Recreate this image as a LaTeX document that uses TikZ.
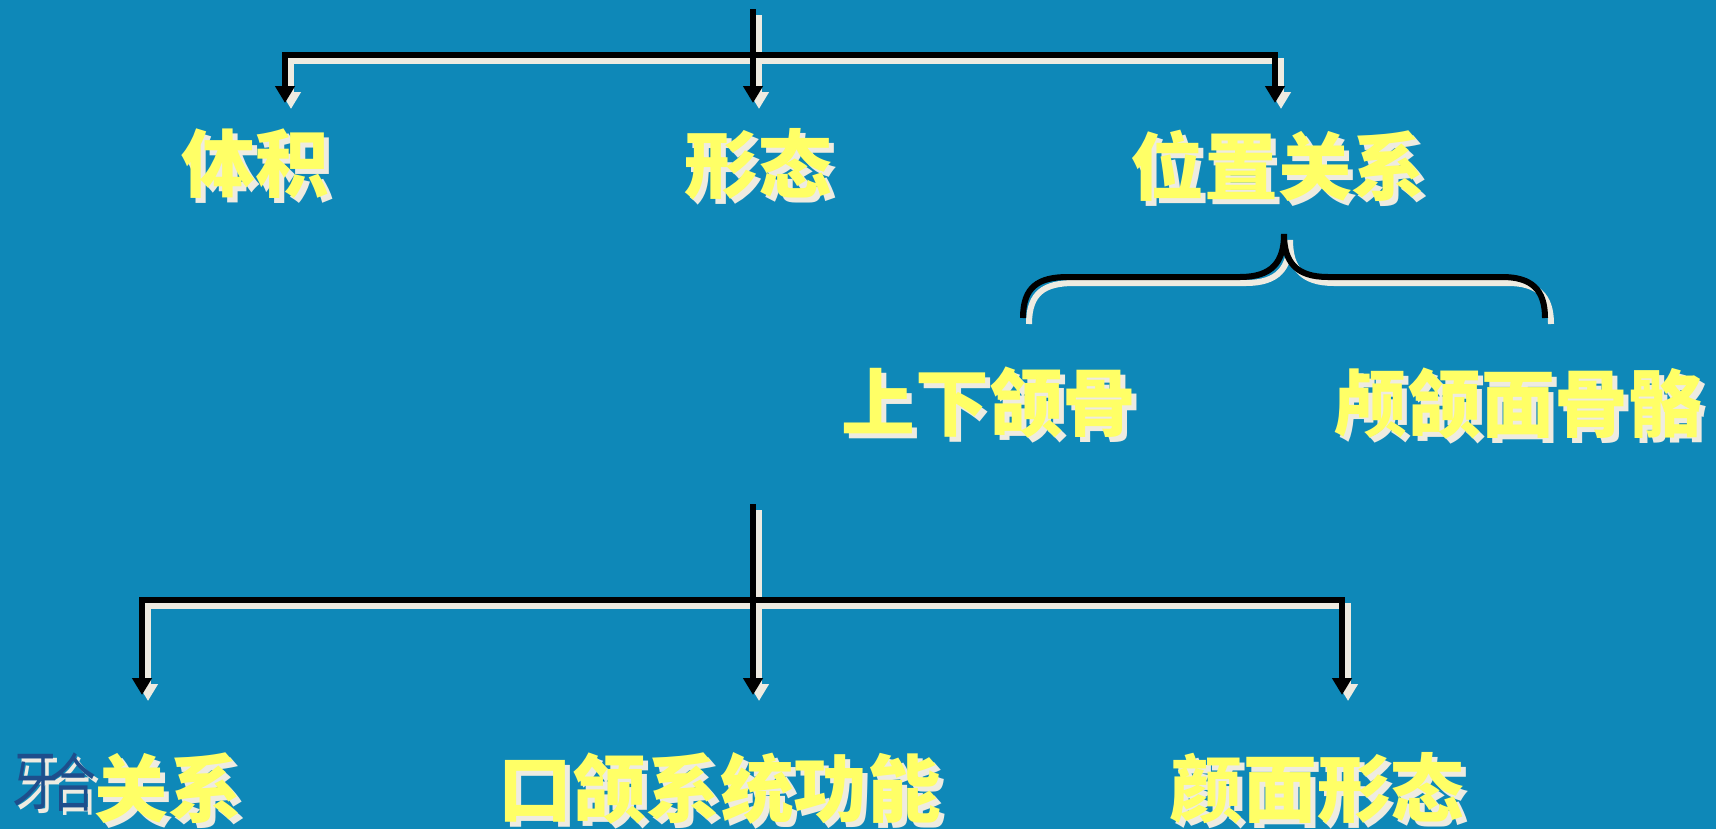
\documentclass[tikz,border=0pt]{standalone}
\usepackage{fontspec}
\newfontfamily\cjk{Noto Sans CJK SC}
\usetikzlibrary{arrows.meta}
\definecolor{bg}{RGB}{14,136,184}
\definecolor{ylw}{RGB}{255,255,102}
\definecolor{shd}{RGB}{238,235,225}
\definecolor{dkb}{RGB}{30,78,140}
\tikzset{
  lbl/.style={font=\cjk\bfseries\fontsize{74}{80}\selectfont, text=ylw, inner sep=0pt},
  lblshadow/.style={lbl, text=shd},
  thin/.style={font=\cjk\fontsize{64}{70}\selectfont, text=dkb, inner sep=0pt, xscale=0.72},
  thinshadow/.style={thin, text=shd},
  conn/.style={line width=6bp, draw=black, line join=miter},
  connshadow/.style={line width=6bp, draw=shd, line join=miter},
  tipped/.style={-{Triangle[width=19bp,length=17bp]}},
}
\begin{document}
\begin{tikzpicture}[x=1bp,y=-1bp]
\fill[bg] (0,0) rectangle (1716,829);
\useasboundingbox (0,0) rectangle (1716,829);

% coordinates
\coordinate (tTop) at (753,9);
\coordinate (tMid) at (753,55);
\coordinate (tL) at (285,55);
\coordinate (tR) at (1275,55);
\coordinate (aL) at (285,103);
\coordinate (aM) at (753,103);
\coordinate (aR) at (1275,103);
\coordinate (bTop) at (753,504);
\coordinate (bMid) at (753,600);
\coordinate (bL) at (142,600);
\coordinate (bR) at (1342,600);
\coordinate (cL) at (142,695);
\coordinate (cM) at (753,695);
\coordinate (cR) at (1342,695);
\coordinate (brTip) at (1284,234);
\coordinate (brL) at (1023,318);
\coordinate (brR) at (1545,318);

% shadows of connectors
\begin{scope}[transform canvas={shift={(6bp,-6bp)}}]
  \draw[connshadow,tipped] (tTop) -- (aM);
  \draw[connshadow,tipped] (tMid) -- (tL) -- (aL);
  \draw[connshadow,tipped] (tMid) -- (tR) -- (aR);
  \draw[connshadow,tipped] (bTop) -- (cM);
  \draw[connshadow,tipped] (bMid) -- (bL) -- (cL);
  \draw[connshadow,tipped] (bMid) -- (bR) -- (cR);
  \draw[connshadow] (brL) .. controls (1023,287) and (1038,277) .. (1068,277)
     -- (1240,277) .. controls (1272,277) and (1284,262) .. (brTip)
     .. controls (1284,262) and (1296,277) .. (1328,277)
     -- (1502,277) .. controls (1532,277) and (1545,290) .. (brR);
\end{scope}

% connectors
\draw[conn,tipped] (tTop) -- (aM);
\draw[conn,tipped] (tMid) -- (tL) -- (aL);
\draw[conn,tipped] (tMid) -- (tR) -- (aR);
\draw[conn,tipped] (bTop) -- (cM);
\draw[conn,tipped] (bMid) -- (bL) -- (cL);
\draw[conn,tipped] (bMid) -- (bR) -- (cR);
\draw[conn] (brL) .. controls (1023,287) and (1038,277) .. (1068,277)
   -- (1240,277) .. controls (1272,277) and (1284,262) .. (brTip)
   .. controls (1284,262) and (1296,277) .. (1328,277)
   -- (1502,277) .. controls (1532,277) and (1545,290) .. (brR);

% label shadows
\node[lblshadow] (s1) at (260,169) {体积};
\node[lblshadow] (s2) at (763,169) {形态};
\node[lblshadow] (s3) at (1283,171) {位置关系};
\node[lblshadow] (s4) at (994,408) {上下颌骨};
\node[lblshadow] (s5) at (1523,409) {颅颌面骨骼};
\node[lblshadow] (s6) at (725,793) {口颌系统功能};
\node[lblshadow] (s7) at (1322,793) {颜面形态};
\node[lblshadow] (s8) at (173,793) {关系};
\node[thinshadow] (s9) at (39,786) {牙};
\node[thinshadow] (s10) at (77,786) {合};

% labels
\node[lbl] (volume) at (255,164) {体积};
\node[lbl] (shape) at (758,164) {形态};
\node[lbl] (position) at (1278,166) {位置关系};
\node[lbl] (jaws) at (989,403) {上下颌骨};
\node[lbl] (skull) at (1518,404) {颅颌面骨骼};
\node[lbl] (function) at (720,788) {口颌系统功能};
\node[lbl] (face) at (1317,788) {颜面形态};
\node[lbl] (occl) at (168,788) {关系};
\node[thin] (ya) at (35,782) {牙};
\node[thin] (he) at (73,782) {合};
\end{tikzpicture}
\end{document}
